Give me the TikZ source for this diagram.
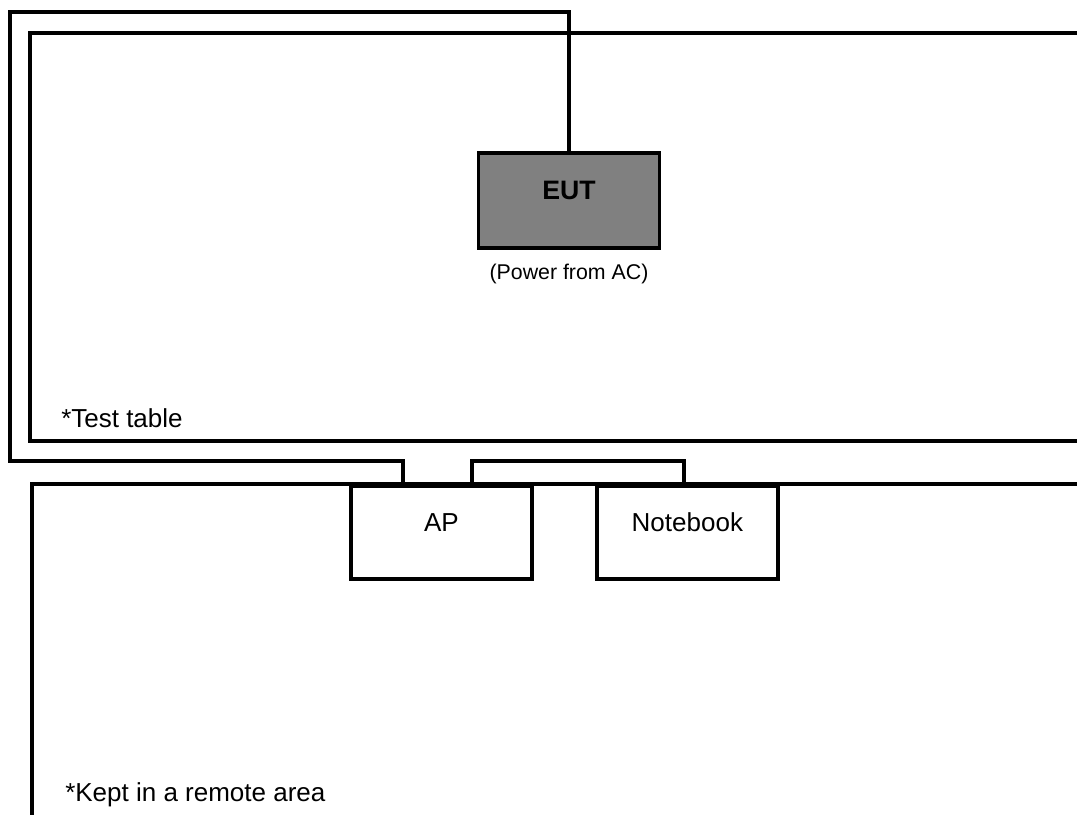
\documentclass[tikz,border=0pt]{standalone}
\usepackage{fontspec}
\setmainfont{Liberation Sans}
\usetikzlibrary{positioning}

\begin{document}
\begin{tikzpicture}[x=.75pt,y=-.75pt,
  wire/.style={line width=2.8pt,line join=miter},
  unit/.style={draw,line width=2.8pt,fill=white,minimum width=181*.75pt,minimum height=93*.75pt,inner sep=0pt,text depth=20*.75pt,font=\fontsize{19.5}{22}\selectfont},
  note/.style={anchor=west,inner sep=0pt,font=\fontsize{19.5}{22}\selectfont}]
\path[use as bounding box] (0,0) rectangle (1077,815);

% test table and remote area
\draw[wire] (1077,33)--(30,33)--(30,441)--(1077,441);
\draw[wire] (1077,484)--(32,484)--(32,815);

% equipment
\node[unit,fill=black!50,minimum height=95*.75pt,font=\bfseries\fontsize{20}{22}\selectfont] (eut) at (569,200.5) {EUT};
\node[below=14*.75pt of eut,inner sep=0pt,font=\fontsize{16}{18}\selectfont] (eutnote) {(Power from AC)};
\node[unit,anchor=north west] (ap) at (349,484) {AP};
\node[unit,anchor=north west] (nb) at (595,484) {Notebook};

% cables
\coordinate (c1) at (569,12);
\coordinate (c2) at (10,12);
\coordinate (c3) at (10,461);
\coordinate (c4) at (403,461);
\coordinate (c5) at (472,461);
\coordinate (c6) at (684,461);
\draw[wire] (eut.north)--(c1)--(c2)--(c3)--(c4)--(c4|-ap.north);
\draw[wire] (c5|-ap.north)--(c5)--(c6)--(c6|-nb.north);

\node[note] (tt) at (61,418) {*Test table};
\node[note] (ra) at (65,795) {*Kept in a remote area};
\end{tikzpicture}
\end{document}
